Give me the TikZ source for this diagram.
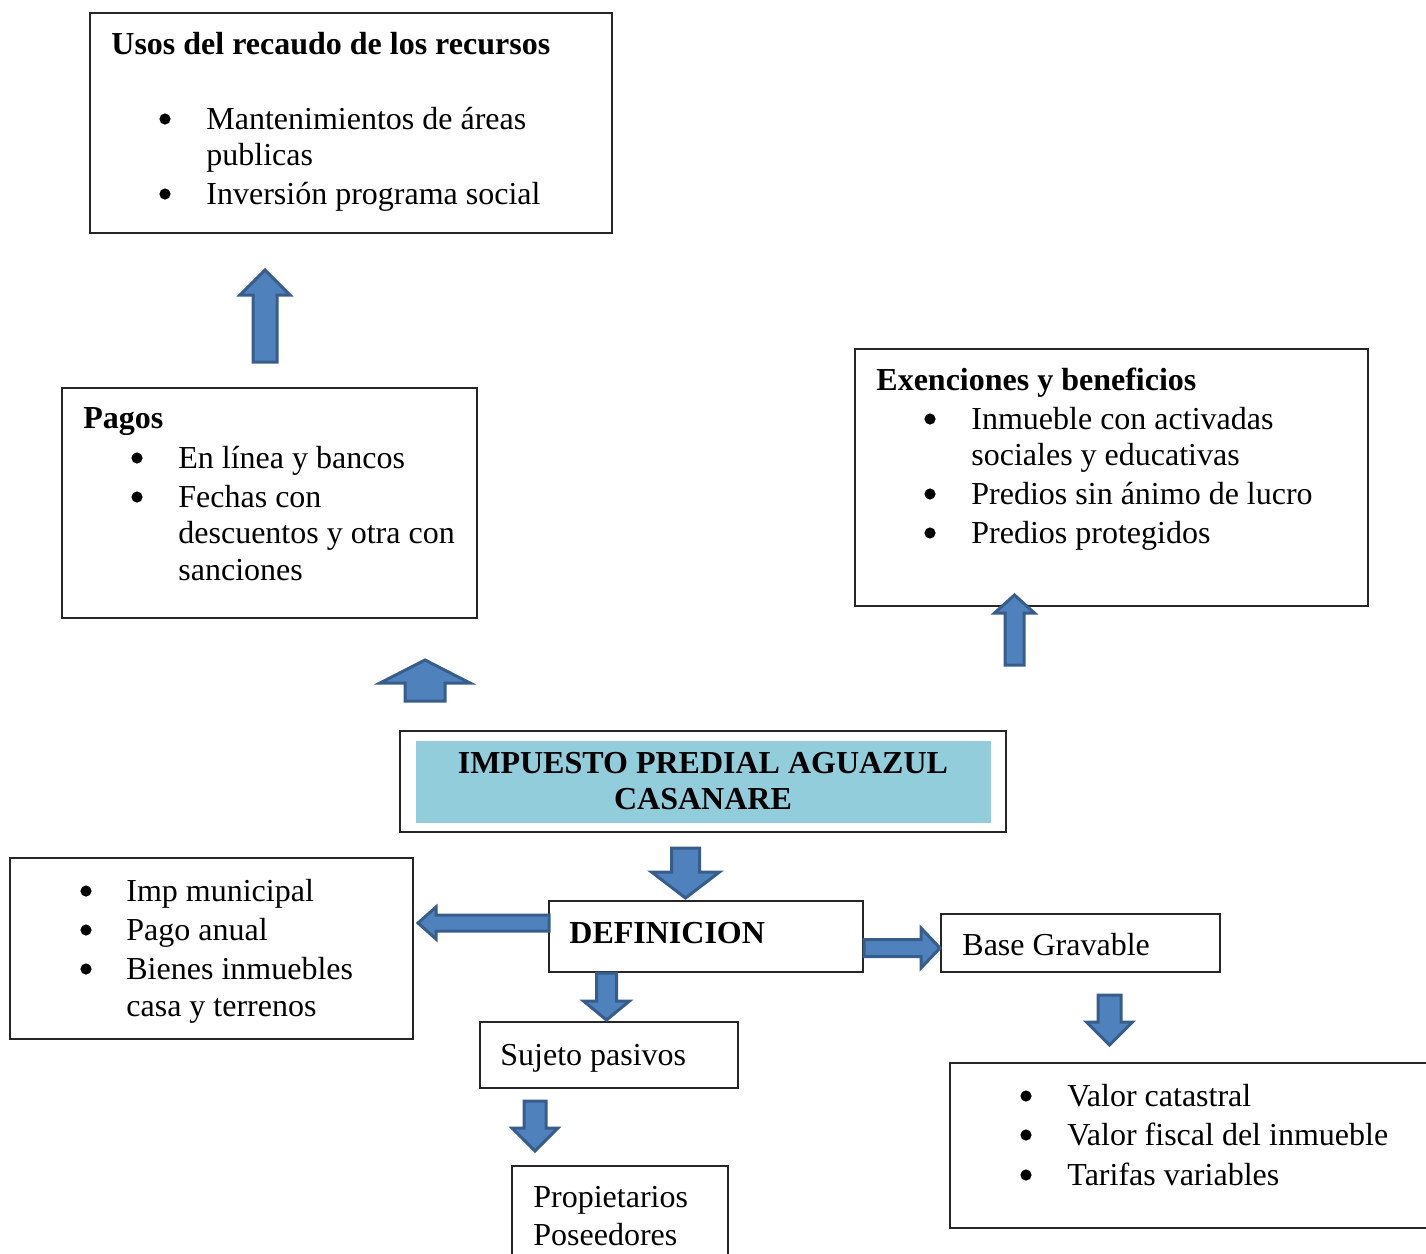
\documentclass[tikz,border=0pt]{standalone}
\usepackage{fontspec}
\setmainfont{Liberation Serif}
\usetikzlibrary{positioning,fit}

\definecolor{flecha}{HTML}{4F81BD}
\definecolor{flechaborde}{HTML}{385D8A}
\definecolor{titulo}{HTML}{92CDDC}

\tikzset{
  caja/.style={draw=black!85, line width=0.6pt, inner sep=0pt},
  txt/.style={anchor=base west, inner sep=0pt, yshift=-1pt, font=\fontsize{16}{18.5}\selectfont},
  tit/.style={txt, font=\fontsize{16}{18.5}\selectfont\bfseries},
  bloque/.style={fill=flecha, draw=flechaborde, line width=1.5pt, line join=miter},
}

% flecha de bloque vertical: x, cola, base de la punta, punta, medio cuerpo, media cabeza
\newcommand{\flechav}[6]{%
  \draw[bloque] (#1-#5,#2) -- (#1-#5,#3) -- (#1-#6,#3) -- (#1,#4)
    -- (#1+#6,#3) -- (#1+#5,#3) -- (#1+#5,#2) -- cycle;}
% flecha de bloque horizontal: y, cola, base de la punta, punta, medio cuerpo, media cabeza
\newcommand{\flechah}[6]{%
  \draw[bloque] (#2,#1-#5) -- (#3,#1-#5) -- (#3,#1-#6) -- (#4,#1)
    -- (#3,#1+#6) -- (#3,#1+#5) -- (#2,#1+#5) -- cycle;}

\begin{document}
\begin{tikzpicture}[x=0.5pt, y=-0.5pt]
  \useasboundingbox (0,0) rectangle (1426,1254);
  \clip (0,0) rectangle (1426,1254);

  % cajas
  \node[caja, fit={(90,13) (612,233)}] (usos) {};
  \node[caja, fit={(62,388) (477,618)}] (pagos) {};
  \node[caja, fit={(855,349) (1368,606)}] (exen) {};
  \node[caja, fit={(400,731) (1006,832)}] (impuesto) {};
  \node[fill=titulo, inner sep=0pt, fit={(416,741) (991,823)}] (impfondo) {};
  \node[caja, fit={(549,901) (863,972)}] (defin) {};
  \node[caja, fit={(10,858) (413,1039)}] (caract) {};
  \node[caja, fit={(941,914) (1220,972)}] (base) {};
  \node[caja, fit={(480,1022) (738,1088)}] (sujeto) {};
  \node[caja, fit={(512,1166) (728,1280)}] (propiet) {};
  \node[caja, fit={(950,1063) (1450,1228)}] (valores) {};

  % usos del recaudo
  \node[tit] (usos-t) at (111,52) {Usos del recaudo de los recursos};
  \foreach \y/\t [count=\i] in {127/Mantenimientos de áreas, 202/Inversión programa social}{
    \fill (165,\y-8) circle (2.8pt);
    \node[txt] (usos\i) at (206,\y) {\t};
  }
  \node[txt] (usos1b) at (206,163) {publicas};

  % pagos
  \node[tit] (pagos-t) at (83,426) {Pagos};
  \foreach \y/\t [count=\i] in {466/En línea y bancos, 505/Fechas con}{
    \fill (137,\y-8) circle (2.8pt);
    \node[txt] (pagos\i) at (178,\y) {\t};
  }
  \node[txt] (pagos2b) at (178,541) {descuentos y otra con};
  \node[txt] (pagos2c) at (178,578) {sanciones};

  % exenciones
  \node[tit] (exen-t) at (876,388) {Exenciones y beneficios};
  \foreach \y/\t [count=\i] in {427/Inmueble con activadas, 502/Predios sin ánimo de lucro, 541/Predios protegidos}{
    \fill (930,\y-8) circle (2.8pt);
    \node[txt] (exen\i) at (971,\y) {\t};
  }
  \node[txt] (exen1b) at (971,463) {sociales y educativas};

  % titulo central
  \node[tit, anchor=base] (imp1) at (703,771) {IMPUESTO PREDIAL AGUAZUL};
  \node[tit, anchor=base] (imp2) at (703,807) {CASANARE};

  \node[tit] (defin-t) at (569,941) {DEFINICION};

  % caracteristicas
  \foreach \y/\t [count=\i] in {899/Imp municipal, 938/Pago anual, 977/Bienes inmuebles}{
    \fill (86,\y-8) circle (2.8pt);
    \node[txt] (caract\i) at (126,\y) {\t};
  }
  \node[txt] (caract3b) at (126,1014) {casa y terrenos};

  \node[txt] (base-t) at (962,953) {Base Gravable};
  \node[txt] (sujeto-t) at (500,1063) {Sujeto pasivos};
  \node[txt] (propiet1) at (533,1205) {Propietarios};
  \node[txt] (propiet2) at (533,1243) {Poseedores};

  \foreach \y/\t [count=\i] in {1104/Valor catastral, 1143/Valor fiscal del inmueble, 1183/Tarifas variables}{
    \fill (1026,\y-8) circle (2.8pt);
    \node[txt] (valores\i) at (1067,\y) {\t};
  }

  % flechas
  \flechav{265}{362}{295}{270}{12}{25}
  \flechav{425}{701}{683}{660}{20}{45}
  \flechav{1014.5}{665}{613}{595}{9.5}{20}
  \flechav{685.5}{848}{872}{898}{14}{34}
  \flechav{606.5}{973}{1001}{1020}{10}{23}
  \flechav{535}{1101}{1128}{1151}{11}{23}
  \flechav{1109.5}{995}{1022}{1045}{11.5}{23}
  \flechah{923}{549}{436}{418}{8}{16}
  \flechah{948}{864}{921}{940}{8.5}{20}
\end{tikzpicture}
\end{document}
